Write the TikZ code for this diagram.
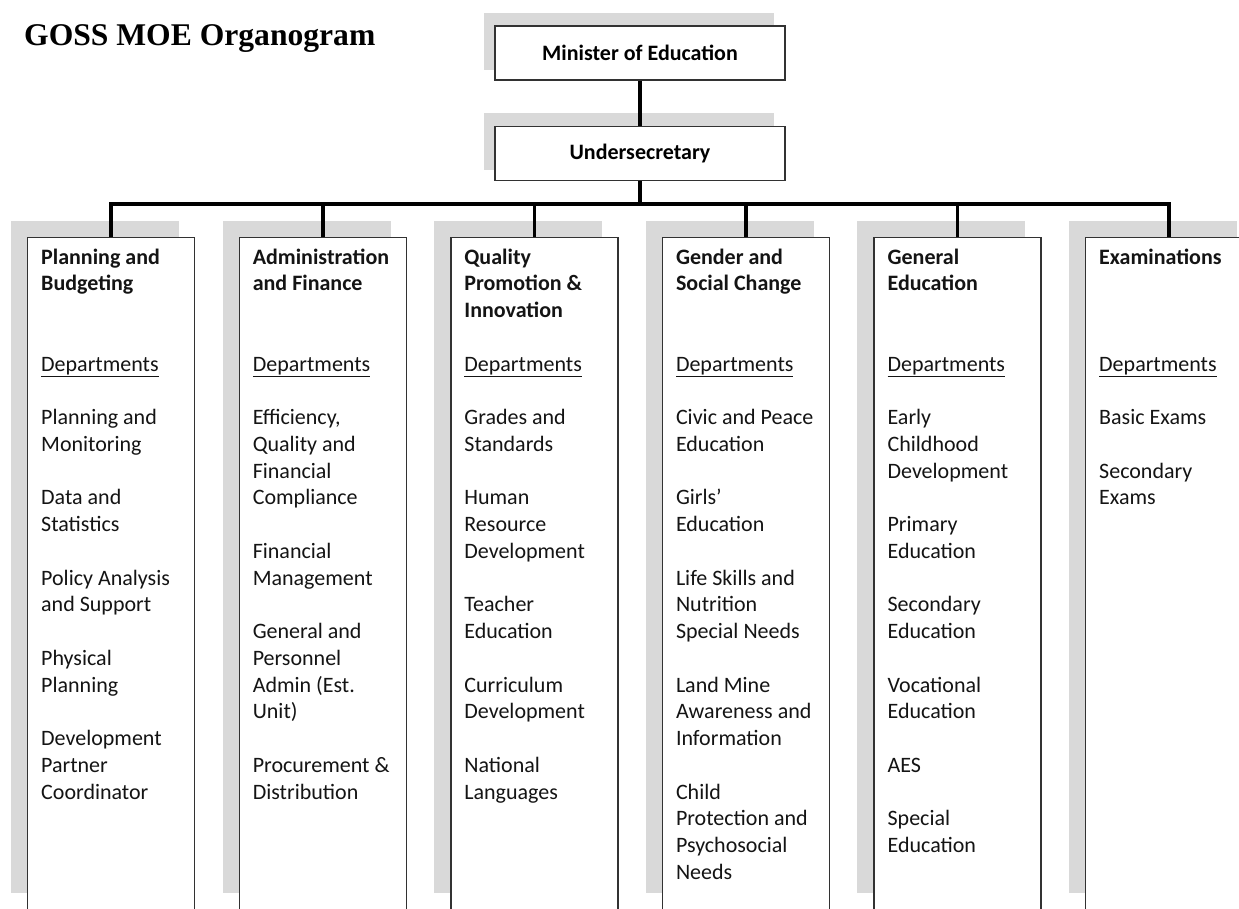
\documentclass[tikz,border=0pt]{standalone}
\usepackage{fontspec}
\setmainfont{Carlito}
\newfontfamily\titlefont{Liberation Serif}
\definecolor{shade}{RGB}{217,217,217}
\definecolor{frame}{RGB}{50,50,50}
\definecolor{ink}{RGB}{20,20,20}
\newcommand{\hd}[1]{\textbf{#1}}
\newcommand{\dept}{\underline{Departments}}
\newcommand{\coltxt}[1]{\parbox[t]{160pt}{\raggedright #1}}

\begin{document}
\begin{tikzpicture}[x=1pt,y=-1pt,
  shadowfill/.style={fill=shade,draw=none},
  topbox/.style={draw=frame,line width=1.4pt,fill=white,minimum width=290pt,
    minimum height=54pt,inner sep=0pt,font=\fontsize{22}{26.75}\selectfont\bfseries},
  colbox/.style={draw=frame,line width=1.4pt,fill=white,anchor=north west,
    minimum width=167pt,minimum height=720pt,inner sep=0pt},
  coltext/.style={anchor=base west,inner sep=0pt,text=ink,
    font=\fontsize{22}{26.75}\selectfont},
  link/.style={line width=3.5pt,black,line join=miter},
  titletext/.style={anchor=base west,inner sep=0pt,
    font=\titlefont\bfseries\fontsize{31.6}{36}\selectfont}]
\clip (0,0) rectangle (1239,908);

% heading
\node[titletext] (title) at (24,45) {GOSS MOE Organogram};

% top of the hierarchy, each with its offset grey shadow
\fill[shadowfill] (484,13) rectangle (774,70);
\node[topbox] (min) at (640,53) {Minister of Education};
\fill[shadowfill] (484,113) rectangle (774,170);
\node[topbox] (us) at (640,153.5) {Undersecretary};

% directorate columns
\foreach \i/\x in {1/27,2/238.6,3/450.2,4/661.8,5/873.4,6/1085}{
  \fill[shadowfill] (\x-16,221) rectangle (\x+152,893);
  \node[colbox] (c\i) at (\x,237) {};
}

% connectors
\coordinate (bus) at (640,204);
\draw[link] (min.south) -- (us.north);
\foreach \i in {1,...,6}{
  \draw[link] (us.south) -- (bus) -| (c\i.north);
}

% column contents
\node[coltext] (t1) at (41,264) {\coltxt{\hd{Planning and}\\\hd{Budgeting}\\[53.5pt]
  \dept\\[26.75pt]
  Planning and\\Monitoring\\[26.75pt]
  Data and\\Statistics\\[26.75pt]
  Policy Analysis\\and Support\\[26.75pt]
  Physical\\Planning\\[26.75pt]
  Development\\Partner\\Coordinator}};
\node[coltext] (t2) at (252.6,264) {\coltxt{\hd{Administration}\\\hd{and Finance}\\[53.5pt]
  \dept\\[26.75pt]
  Efficiency,\\Quality and\\Financial\\Compliance\\[26.75pt]
  Financial\\Management\\[26.75pt]
  General and\\Personnel\\Admin (Est.\\Unit)\\[26.75pt]
  Procurement \&\\Distribution}};
\node[coltext] (t3) at (464.2,264) {\coltxt{\hd{Quality}\\\hd{Promotion \&}\\\hd{Innovation}\\[26.75pt]
  \dept\\[26.75pt]
  Grades and\\Standards\\[26.75pt]
  Human\\Resource\\Development\\[26.75pt]
  Teacher\\Education\\[26.75pt]
  Curriculum\\Development\\[26.75pt]
  National\\Languages}};
\node[coltext] (t4) at (675.8,264) {\coltxt{\hd{Gender and}\\\hd{Social Change}\\[53.5pt]
  \dept\\[26.75pt]
  Civic and Peace\\Education\\[26.75pt]
  Girls’\\Education\\[26.75pt]
  Life Skills and\\Nutrition\\Special Needs\\[26.75pt]
  Land Mine\\Awareness and\\Information\\[26.75pt]
  Child\\Protection and\\Psychosocial\\Needs}};
\node[coltext] (t5) at (887.4,264) {\coltxt{\hd{General}\\\hd{Education}\\[53.5pt]
  \dept\\[26.75pt]
  Early\\Childhood\\Development\\[26.75pt]
  Primary\\Education\\[26.75pt]
  Secondary\\Education\\[26.75pt]
  Vocational\\Education\\[26.75pt]
  AES\\[26.75pt]
  Special\\Education}};
\node[coltext] (t6) at (1099,264) {\coltxt{\hd{Examinations}\\[80.25pt]
  \dept\\[26.75pt]
  Basic Exams\\[26.75pt]
  Secondary\\Exams}};
\end{tikzpicture}
\end{document}
